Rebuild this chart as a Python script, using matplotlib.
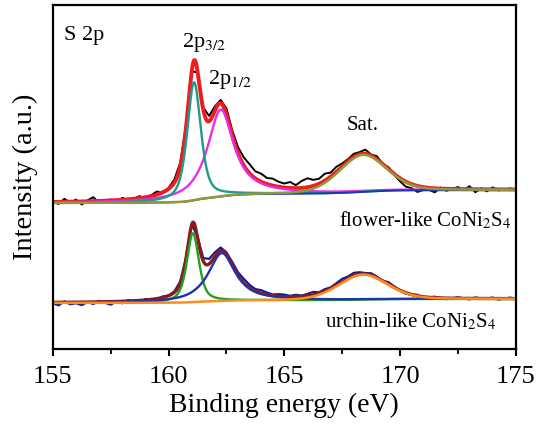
import numpy as np
import matplotlib.pyplot as plt

plt.rcParams['font.family'] = 'Liberation Serif'
plt.rcParams['mathtext.fontset'] = 'stix'

# binding energy grid (eV)
energy = np.arange(155, 175.01, 0.25)

# fitted peaks: centre (eV), height, fwhm (eV), lorentz fraction
flower_peaks = {
    'p32': (161.1, 118, 0.7, 0.6),
    'p12': (162.25, 87, 1.35, 0.95),
    'sat': (168.4, 37, 2.4, 0.2),
}
flower_bg = (146, 159)      # background before / after peaks

urchin_peaks = {
    'p32': (161.05, 69, 0.62, 0.6),
    'p12': (162.3, 48, 1.4, 0.9),
    'sat': (168.4, 25, 2.5, 0.2),
}
urchin_bg = (46, 50)

flower_resid = [0, -2, 3, -1, 2, -3, 1, 4, -2, 0, 1, -3, 2, -1, 0, 2, -2, 1, 3, -1,
                1, 3, 4, 2,
                0, -2, 2, 5, 4, 3, 6, 5,
                6, 8, 9, 7, 8, 6, 7, 5, 4, 6, 3, 7, 9, 6, 5, 7, 4, 5, 3, 2,
                3, 2, 4, 1, 3, 0, 2, -1,
                -3, -5, -4, -6, -3, -2, -4, 1, -2, 0, 2, -1, 3, -3, 1, -2, 2, -1, 0, 1, 0]
urchin_resid = [-1, -3, 1, -2, -1, -3, 0, -2, 1, -1, -3, 0, -2, 1, 0, -2, 1, 0, -1, 1,
                0, 1, 2, 1,
                0, 1, 3, 5, 4, 3, 2, 3,
                3, 4, 3, 2, 3, 2, 1, 2, 2, 1, 2, 1, 2, 3, 1, 2, 1, 2, 3, 2,
                3, 2, 1, 2, 1, 0, 2, 1,
                0, -1, 0, 1, -1, 0, 1, 0, -1, 0, 1, 0, -1, 1, 0, 0, 1, -1, 0, 1, 0]


def pv(e, c, a, w, eta):
    x = (e - c) / w
    lor = 1 / (1 + 4 * x ** 2)
    gau = np.exp(-4 * np.log(2) * x ** 2)
    return a * (eta * lor + (1 - eta) * gau)


def fit_curves(peaks, bg_lo, bg_hi, e):
    comps = {k: pv(e, *v) for k, v in peaks.items()}
    total = sum(comps.values())
    frac = np.cumsum(total) / np.sum(total)
    bg = bg_lo + (bg_hi - bg_lo) * frac
    return comps, total + bg, bg


fig = plt.figure(figsize=(5.39, 4.25), dpi=100)
ax = fig.add_axes([0.098, 0.179, 0.859, 0.809])

fine = np.linspace(155, 175, 800)

# flower-like
comps, env, bg = fit_curves(flower_peaks, *flower_bg, fine)
_, env_c, _ = fit_curves(flower_peaks, *flower_bg, energy)
ax.plot(energy, env_c + np.array(flower_resid), color='black', lw=1.4)
ax.plot(fine, env, color='#ee1c1c', lw=2.8)
ax.plot(fine, comps['p12'] + bg, color='#e62ee6', lw=1.7)
ax.plot(fine, comps['p32'] + bg, color='#1f9a8c', lw=1.7)
ax.plot(fine, bg, color='#2233bb', lw=1.4)
ax.plot(fine, comps['sat'] + bg, color='#8f9a38', lw=1.8)

# urchin-like
comps, env, bg = fit_curves(urchin_peaks, *urchin_bg, fine)
_, env_c, _ = fit_curves(urchin_peaks, *urchin_bg, energy)
ax.plot(energy, env_c + np.array(urchin_resid), color='#1a1a8a', lw=1.6)
ax.plot(fine, env, color='#8b1a1a', lw=2.4)
ax.plot(fine, comps['p32'] + bg, color='#23a023', lw=1.7)
ax.plot(fine, comps['p12'] + bg, color='#2233aa', lw=1.7)
ax.plot(fine, comps['sat'] + bg, color='#ff8c1a', lw=1.8)

ax.set_xlim(155, 175)
ax.set_ylim(0, 344)
ax.set_yticks([])
ax.set_xticks([155, 160, 165, 170, 175])
ax.set_xticks([157.5, 162.5, 167.5, 172.5], minor=True)
ax.tick_params(axis='x', which='major', direction='out', length=5, width=1.5,
               labelsize=19, pad=7, top=False)
ax.tick_params(axis='x', which='minor', direction='out', length=3.5, width=1.3, top=False)
for s in ax.spines.values():
    s.set_linewidth(1.6)

ax.set_xlabel('Binding energy (eV)', fontsize=20, labelpad=4)
ax.set_ylabel('Intensity (a.u.)', fontsize=20.5, labelpad=11)

ax.text(155.5, 314, 'S 2p', fontsize=16, va='center')
ax.text(161.55, 307, r'2p$_{3/2}$', fontsize=16, ha='center', va='center')
ax.text(162.65, 270, r'2p$_{1/2}$', fontsize=16, ha='center', va='center')
ax.text(168.4, 224, 'Sat.', fontsize=15, ha='center', va='center')
ax.text(174.83, 129, r'flower-like CoNi$_2$S$_4$', fontsize=15, ha='right', va='center')
ax.text(174.18, 27, r'urchin-like CoNi$_2$S$_4$', fontsize=15, ha='right', va='center')

fig.savefig('out.png', dpi=100)
